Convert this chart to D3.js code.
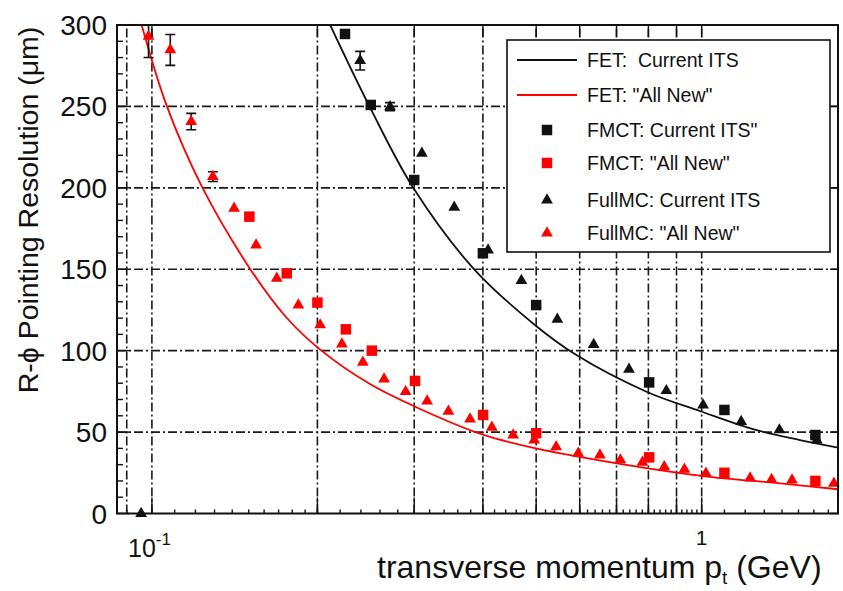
<!DOCTYPE html>
<html><head><meta charset="utf-8">
<script src="https://cdn.jsdelivr.net/npm/d3@7"></script>
<style>
body{margin:0;background:#fff}
text{font-family:"Liberation Sans",Arial,Helvetica,sans-serif;fill:#111}
</style>
</head><body><svg id="c" width="843" height="591"></svg>
<script>
// ---------- data ----------
const fetCurrentP = [0.211, 0.2488, 0.2988, 0.3842, 0.4973, 0.5918, 0.7937, 0.9948, 1.254, 1.509, 1.77];
const fetCurrentS = [300, 250, 200, 150.6, 115.8, 97.3, 74.8, 62.8, 51.3, 45.1, 40.5];
const fetNewP = [0.0958, 0.1065, 0.1233, 0.1509, 0.175, 0.2021, 0.2493, 0.3075, 0.4, 0.5, 0.71, 1.006, 1.39, 1.77];
const fetNewS = [300, 250, 200.7, 150.2, 121, 100.8, 79.5, 64.2, 48.4, 40.0, 30.5, 23.0, 18.5, 14.9];

const fmctCurP = [0.2245, 0.2501, 0.3, 0.4, 0.5, 0.8025, 1.10, 1.61];
const fmctCurS = [294.5, 250.9, 204.8, 159.8, 128, 80.5, 63.6, 48.2];

const fmctNewP = [0.1504, 0.1759, 0.2, 0.2253, 0.2512, 0.301, 0.4003, 0.5, 0.8025, 1.10, 1.61];
const fmctNewS = [182.3, 147.5, 129.5, 113.1, 100, 81.4, 60.5, 49.3, 34.5, 25, 20];

const fullCurP = [0.0956, 0.2392, 0.2711, 0.3098, 0.3548, 0.4088, 0.470, 0.5463, 0.6362, 0.7376, 0.8625, 1.006, 1.18, 1.385, 1.62];
const fullCurS = [0, 278.1, 249.8, 221.2, 188, 161.8, 143, 119.3, 103.8, 88.6, 75.4, 66.6, 56.4, 51.3, 45.1];
const fullCurE = [0, 5.7, 2.5, 0, 0, 0, 0, 0, 0, 0, 0, 0, 0, 0, 0];

const fullNewP = [0.0986, 0.108, 0.1179, 0.1291, 0.1411, 0.1547, 0.1687, 0.1847, 0.2023, 0.2216, 0.2419, 0.2644, 0.2894, 0.3167, 0.3462, 0.379, 0.4153, 0.454, 0.496, 0.5436, 0.5962, 0.653, 0.7114, 0.7803, 0.855, 0.9302, 1.018, 1.225, 1.34, 1.46, 1.74];
const fullNewS = [293, 284.7, 240.7, 206.9, 187.4, 164.9, 144.4, 128, 115.8, 104.1, 92.9, 82.6, 74.8, 69, 62.8, 58, 52.9, 48.2, 45.1, 41, 37, 35.9, 32.9, 31.4, 28.7, 27.1, 24.7, 21.8, 20.8, 20.5, 18.5];
const fullNewE = [13, 9.5, 5, 3, 0, 0, 0, 0, 0, 0, 0, 0, 0, 0, 0, 0, 0, 0, 0, 0, 0, 0, 0, 0, 0, 0, 0, 0, 0, 0, 0];

const yTicks = [0, 50, 100, 150, 200, 250, 300];
const yGrid = [50, 100, 150, 200, 250];
const xGrid = [0.09, 0.1, 0.2, 0.3, 0.4, 0.5, 0.6, 0.7, 0.8, 0.9, 1];
const xMajor = [0.1, 0.2, 0.3, 0.4, 0.5, 0.6, 0.7, 0.8, 0.9, 1];

const legendLabels = ["FET:  Current ITS", "FET: \"All New\"", "FMCT: Current ITS\"", "FMCT: \"All New\"", "FullMC: Current ITS", "FullMC: \"All New\""];
const legendKinds = ["line", "line", "square", "square", "triangle", "triangle"];
const legendColors = ["#111", "#ff0000", "#111", "#ff0000", "#111", "#ff0000"];

// ---------- layout ----------
const L = 117, R = 838, T = 25, B = 513.5;
const RED = "#ff0000", BLK = "#111";
const svg = d3.select("#c");
const x = d3.scaleLog().domain([0.0864, 1.77]).range([L, R]);
const y = d3.scaleLinear().domain([0, 300]).range([B, T]);

svg.append("defs").append("clipPath").attr("id", "clip")
  .append("rect").attr("x", L).attr("y", T).attr("width", R - L).attr("height", B - T);

// grid
const grid = svg.append("g").attr("stroke", "#1a1a1a").attr("stroke-width", 1.6)
  .attr("stroke-dasharray", "9,3,2,3");
grid.selectAll(".gy").data(yGrid).join("line")
  .attr("x1", L).attr("x2", R).attr("y1", d => y(d)).attr("y2", d => y(d));
grid.selectAll(".gx").data(xGrid).join("line")
  .attr("y1", B).attr("y2", T).attr("x1", d => x(d)).attr("x2", d => x(d));

// legend box
const lg = svg.append("g");
const lx0 = 507, ly0 = 40, lx1 = 830, ly1 = 252;
lg.append("rect").attr("x", lx0).attr("y", ly0).attr("width", lx1 - lx0).attr("height", ly1 - ly0)
  .attr("fill", "#fff").attr("stroke", "#111").attr("stroke-width", 1.6);
const rowY = [60, 95, 130, 163, 200, 233];
const sq = d3.symbol(d3.symbolSquare, 110);
const tri = d3.symbol(d3.symbolTriangle, 60);
legendLabels.forEach((lab, i) => {
  const cy = rowY[i];
  if (legendKinds[i] === "line") {
    lg.append("line").attr("x1", 517).attr("x2", 577).attr("y1", cy).attr("y2", cy)
      .attr("stroke", legendColors[i]).attr("stroke-width", 1.8);
  } else {
    lg.append("path").attr("d", legendKinds[i] === "square" ? sq() : tri())
      .attr("transform", `translate(547,${cy})`).attr("fill", legendColors[i]);
  }
  lg.append("text").attr("x", 587).attr("y", cy + 7).attr("font-size", 19.5)
    .style("white-space", "pre").text(lab);
});

// curves
const plot = svg.append("g").attr("clip-path", "url(#clip)");
const line = d3.line().x(d => x(d[0])).y(d => y(d[1])).curve(d3.curveCatmullRom.alpha(0.5));
plot.append("path").datum(d3.zip(fetCurrentP, fetCurrentS)).attr("d", line)
  .attr("fill", "none").attr("stroke", BLK).attr("stroke-width", 1.8);
plot.append("path").datum(d3.zip(fetNewP, fetNewS)).attr("d", line)
  .attr("fill", "none").attr("stroke", RED).attr("stroke-width", 1.8);

// error bars
function errBars(P, S, E) {
  const d = d3.zip(P, S, E).filter(v => v[2] > 0);
  const g = plot.append("g").attr("stroke", BLK).attr("stroke-width", 1.6);
  d.forEach(v => {
    const cx = x(v[0]), y1 = y(v[1] + v[2]), y2 = y(v[1] - v[2]);
    g.append("line").attr("x1", cx).attr("x2", cx).attr("y1", y1).attr("y2", y2);
    g.append("line").attr("x1", cx - 5).attr("x2", cx + 5).attr("y1", y1).attr("y2", y1);
    g.append("line").attr("x1", cx - 5).attr("x2", cx + 5).attr("y1", y2).attr("y2", y2);
  });
}
errBars(fullNewP, fullNewS, fullNewE);
errBars(fullCurP, fullCurS, fullCurE);

function markers(P, S, gen, col) {
  svg.append("g").selectAll("path").data(d3.zip(P, S)).join("path")
    .attr("d", gen()).attr("fill", col)
    .attr("transform", d => `translate(${x(d[0])},${y(d[1])})`);
}
markers(fullNewP, fullNewS, tri, RED);
markers(fmctNewP, fmctNewS, sq, RED);
markers(fullCurP, fullCurS, tri, BLK);
markers(fmctCurP, fmctCurS, sq, BLK);

// frame
svg.append("rect").attr("x", L).attr("y", T).attr("width", R - L).attr("height", B - T)
  .attr("fill", "none").attr("stroke", "#111").attr("stroke-width", 2);

// y ticks (left, inward)
const yt = svg.append("g").attr("stroke", "#111").attr("stroke-width", 1.4);
d3.range(0, 301, 10).forEach(v => {
  const len = v % 50 === 0 ? 12 : 6;
  yt.append("line").attr("x1", L).attr("x2", L + len).attr("y1", y(v)).attr("y2", y(v));
  yt.append("line").attr("x1", R).attr("x2", R - (v % 50 === 0 ? 8 : 0)).attr("y1", y(v)).attr("y2", y(v));
});
// x ticks (bottom & top, inward)
const xt = svg.append("g").attr("stroke", "#111").attr("stroke-width", 1.4);
xMajor.forEach(v => {
  xt.append("line").attr("x1", x(v)).attr("x2", x(v)).attr("y1", B).attr("y2", B - 16);
  xt.append("line").attr("x1", x(v)).attr("x2", x(v)).attr("y1", T).attr("y2", T + 12);
});
const minors = d3.range(0.09, 0.2, 0.01).concat(d3.range(0.2, 1, 0.02), d3.range(1, 1.78, 0.1));
minors.forEach(v => {
  xt.append("line").attr("x1", x(v)).attr("x2", x(v)).attr("y1", B).attr("y2", B - 4);
});

// y tick labels
svg.append("g").selectAll("text").data(yTicks).join("text")
  .attr("x", 107).attr("y", d => y(d)).attr("dy", "0.36em").attr("text-anchor", "end")
  .attr("font-size", 28).text(d => d);

// x tick labels
const t1 = svg.append("text").attr("x", 128).attr("y", 557).attr("font-size", 25);
t1.append("tspan").text("10");
t1.append("tspan").attr("dy", -12).attr("font-size", 17).text("-1");
svg.append("text").attr("x", x(1)).attr("y", 545).attr("text-anchor", "middle").attr("font-size", 21).text("1");

// axis titles
const xt2 = svg.append("text").attr("x", 377).attr("y", 578).attr("font-size", 32);
xt2.append("tspan").text("transverse momentum p");
xt2.append("tspan").attr("dy", 6).attr("font-size", 19).text("t");
xt2.append("tspan").attr("dy", -6).text(" (GeV)");

svg.append("text").attr("transform", "translate(38,210) rotate(-90)")
  .attr("text-anchor", "middle").attr("font-size", 28.5).text("R-ϕ Pointing Resolution (μm)");
</script></body></html>
